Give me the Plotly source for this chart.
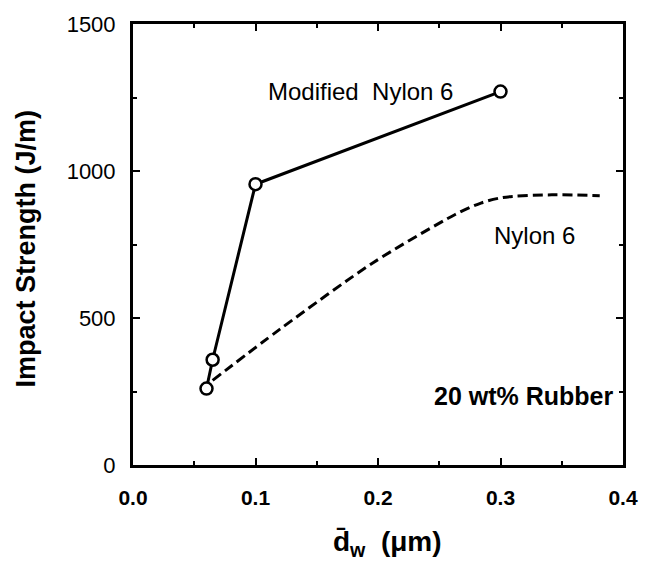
import plotly.graph_objects as go

# Modified Nylon 6 (solid line with open circles)
mod_x = [0.060, 0.065, 0.100, 0.300]
mod_y = [260, 358, 955, 1270]

# Nylon 6 (dashed curve)
ny_x = [0.065, 0.120, 0.196, 0.263, 0.284, 0.302, 0.342, 0.381]
ny_y = [288, 462, 688, 852, 891, 910, 919, 916]

x_ticks = [0.0, 0.1, 0.2, 0.3, 0.4]
x_ticklabels = ["0.0", "0.1", "0.2", "0.3", "0.4"]
y_ticks = [0, 500, 1000, 1500]
y_ticklabels = ["0", "500", "1000", "1500"]

FONT = "Liberation Sans, Arial, Helvetica, sans-serif"

fig = go.Figure()
fig.add_trace(go.Scatter(
    x=ny_x, y=ny_y, mode="lines",
    line=dict(color="black", width=3, dash="10px,5px", shape="spline", smoothing=0.8),
    showlegend=False, hoverinfo="skip"))
fig.add_trace(go.Scatter(
    x=mod_x, y=mod_y, mode="lines+markers",
    line=dict(color="black", width=3),
    marker=dict(symbol="circle", size=12, color="white", line=dict(color="black", width=2.5)),
    showlegend=False))

axis_common = dict(showline=True, linecolor="black", linewidth=3, mirror="ticks",
                   ticks="inside", tickcolor="black", tickwidth=2, ticklen=7,
                   showgrid=False, zeroline=False)

fig.update_xaxes(range=[0, 0.4], tickvals=x_ticks, ticktext=[f"<b>{t}</b>" for t in x_ticklabels],
                 tickfont=dict(family=FONT, size=21, color="black"), ticklabelstandoff=12,
                 minor=dict(dtick=0.05, ticks="inside", ticklen=4, tickwidth=2, tickcolor="black", showgrid=False),
                 **axis_common)
fig.update_yaxes(range=[0, 1500], tickvals=y_ticks, ticktext=y_ticklabels,
                 tickfont=dict(family=FONT, size=22, color="black"), ticklabelstandoff=10,
                 minor=dict(dtick=250, ticks="inside", ticklen=4, tickwidth=2, tickcolor="black", showgrid=False),
                 **axis_common)

fig.add_annotation(x=0.1085, y=1272, xref="x", yref="y", text="Modified\u00a0\u00a0Nylon 6",
                   showarrow=False, xanchor="left", yanchor="middle",
                   font=dict(family=FONT, size=24, color="black"))
fig.add_annotation(x=0.293, y=780, xref="x", yref="y", text="Nylon 6",
                   showarrow=False, xanchor="left", yanchor="middle",
                   font=dict(family=FONT, size=24, color="black"))
fig.add_annotation(x=0.3935, y=236, xref="x", yref="y", text="<b>20 wt% Rubber</b>",
                   showarrow=False, xanchor="right", yanchor="middle",
                   font=dict(family=FONT, size=25, color="black"))

# axis titles
fig.add_annotation(x=0.52, y=-0.179, xref="paper", yref="paper",
                   text="<b>d\u0304<sub>w</sub>\u00a0\u00a0(\u03bcm)</b>",
                   showarrow=False, xanchor="center", yanchor="middle",
                   font=dict(family=FONT, size=28, color="black"))
fig.add_annotation(x=-0.219, y=0.49, xref="paper", yref="paper",
                   text="<b>Impact Strength (J/m)</b>", textangle=-90,
                   showarrow=False, xanchor="center", yanchor="middle",
                   font=dict(family=FONT, size=27, color="black"))

fig.update_layout(width=650, height=563, margin=dict(l=133, r=24, t=19, b=98),
                  plot_bgcolor="white", paper_bgcolor="white")
fig.write_html("out.html")
